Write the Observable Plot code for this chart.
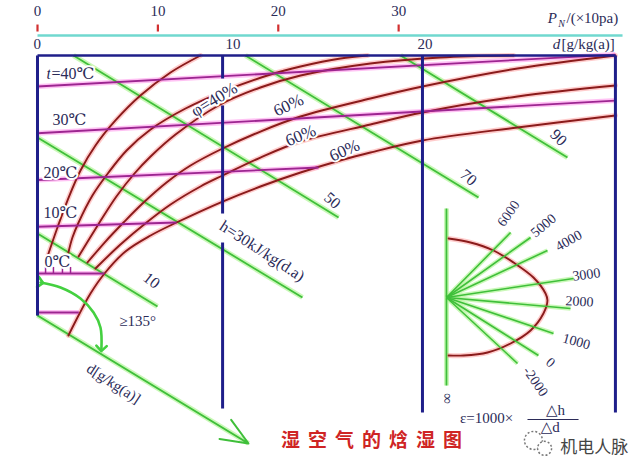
<!DOCTYPE html>
<html><head><meta charset="utf-8">
<script src="https://cdn.jsdelivr.net/npm/d3@7"></script>
<script src="https://cdn.jsdelivr.net/npm/@observablehq/plot@0.6"></script>
<style>html,body{margin:0;padding:0;background:#fff;width:640px;height:471px;overflow:hidden}</style>
</head><body><div id="chart"></div>
<script>
// ---- data: x = d (g/kg), y = t (°C on the d = 0 axis) ----
const pTicks = [0, 10, 20, 30];          // P_N (×10 Pa) tick values
const pToD = 0.627;                        // P_N tick 30 sits at d ≈ 18.8
const dTicks = [0, 10, 20];

const isoTemps = [40, 30, 20, 10, 0, -8.34];
const isoEndD  = [30.10, 30.10, 14.64, 7.24, 3.49, 2.15];
const isoEndT  = [46.84, 37.0, 22.67, 10.91, 0, -8.34];
const hatchD   = [0.42, 0.83, 1.30, 1.72];

const hValues = [10, 30, 50, 70, 90];
const hStartD = [0, 0, 1.875, 10.83, 18.91];
const hStartT = [8.56, 29.09, 46.63, 46.63, 46.63];
const hEndD   = [6.25, 13.80, 15.68, 22.97, 27.60];
const hEndT   = [-7.06, -5.13, 11.98, 16.26, 24.81];
const dAxisLine = [{d1: 0, t1: -8.98, d2: 10.99, t2: -36.36}];

const frameTop = [{d1: 0, d2: 30.10, t: 46.63}];
const gridD  = [0, 9.64, 9.64, 9.64, 20.05, 30.10];
const gridT1 = [46.63, 46.63, 35.94, 6.63, 46.63, 46.63];
const gridT2 = [-8.98, 41.71, 12.83, -28.88, -29.73, -29.73];
const pAxisLine = [{d1: 0, d2: 30.47, t: 50.91}];

const phiC1 = [[0.52,3.64],[1.04,9.84],[1.56,15.61],[2.24,22.03],[3.02,27.38],[4.06,32.73],[5.36,38.07],[6.93,43.0],[8.49,46.63]];
const phiC2 = [[1.61,4.49],[1.82,7.70],[2.14,10.91],[2.86,16.68],[3.70,21.60],[4.64,26.31],[5.89,30.80],[7.71,35.29],[9.79,39.14],[12.14,42.57],[13.70,44.28],[15.78,45.99],[17.19,46.63]];
const phiC3 = [[2.14,3.64],[3.23,10.91],[4.11,16.47],[5.05,21.39],[5.89,25.03],[7.19,29.73],[9.43,35.94],[11.61,39.79],[13.70,42.35],[17.34,44.92],[20.99,46.20],[24.79,46.63]];
const phiC4 = [[2.60,2.35],[3.54,6.84],[4.48,10.91],[5.47,14.97],[6.72,19.47],[7.97,23.10],[9.64,26.74],[11.61,30.37],[13.70,33.58],[17.34,37.43],[20.05,40.0],[25.0,43.85],[30.10,46.63]];
const phiC5 = [[3.02,1.07],[4.32,6.20],[5.68,10.91],[6.93,14.76],[8.49,18.61],[9.64,20.96],[11.61,24.81],[13.70,28.24],[17.34,31.87],[20.05,34.44],[25.0,37.86],[30.10,40.21]];
const phiSat = [[1.61,-13.26],[2.19,-8.56],[2.76,-4.28],[3.49,0],[4.58,4.71],[5.89,8.13],[7.24,10.91],[9.64,15.40],[11.61,18.61],[13.70,21.60],[15.94,24.39],[17.34,25.88],[20.05,28.45],[25.0,31.23],[30.10,33.80]];

const angleArrow = [[0.16,-1.93],[1.20,-2.99],[2.24,-5.35],[2.92,-8.34],[3.28,-11.55],[3.33,-16.04]];

const epsCenter = {d: 21.30, t: -5.13};
const epsLabels = ["6000","5000","4000","3000","2000","1000","0","-2000"];
const epsRayEnd = [[24.64,8.77],[25.68,7.70],[26.56,4.92],[27.92,-1.07],[27.76,-7.49],[26.875,-12.83],[26.09,-17.54],[25.0,-19.25]];
const epsLabelAt = [[24.53,12.83],[26.35,10.27],[27.66,7.06],[28.59,-0.21],[28.23,-5.99],[28.07,-14.55],[26.72,-19.04],[25.94,-23.10]];
const epsLabelAngle = [-55,-40,-30,-8,3,15,40,55];
const epsArc = [[21.41,7.49],[22.55,6.63],[23.75,4.92],[24.79,2.35],[25.83,-0.86],[26.46,-4.28],[26.56,-5.78],[26.35,-8.56],[25.68,-12.19],[24.64,-14.97],[23.44,-16.90],[22.19,-17.54],[21.41,-17.54]];
const epsAxis = [{d: 21.30, t1: 13.90, t2: -23.96}];

const isoLabels = [
  {text: "=40℃", d: 0.73, t: 42.78},
  {text: "30℃", d: 0.78, t: 32.94},
  {text: "20℃", d: 0.31, t: 21.50},
  {text: "10℃", d: 0.31, t: 13.05},
  {text: "0℃",  d: 0.36, t: 2.57}
];
const phiLabels = [
  {text: "φ=40%", d: 9.20, t: 37.2, a: -31},
  {text: "60%", d: 13.07, t: 36.0, a: -25},
  {text: "60%", d: 13.70, t: 29.52, a: -22},
  {text: "60%", d: 15.99, t: 26.31, a: -24}
];
const hLabels = [
  {text: "h=30kJ/kg(d.a)", d: 11.70, t: 4.80, a: 33},
  {text: "50", d: 15.36, t: 15.61, a: 40},
  {text: "70", d: 22.45, t: 20.53, a: 40},
  {text: "90", d: 27.14, t: 29.09, a: 45},
  {text: "10", d: 5.94, t: -1.50, a: 38}
];
const titleText = "湿空气的焓湿图";
const brandText = "机电人脉";

// ---- build tables ----
const isoTable = isoTemps.map((t, i) => ({t, d2: isoEndD[i], t2: isoEndT[i]}));
const hTable = hValues.map((h, i) => ({h, d1: hStartD[i], t1: hStartT[i], d2: hEndD[i], t2: hEndT[i]}));
const gridTable = gridD.map((d, i) => ({d, t1: gridT1[i], t2: gridT2[i]}));
const rays = epsLabels.map((s, i) => ({s, d2: epsRayEnd[i][0], t2: epsRayEnd[i][1], ld: epsLabelAt[i][0], lt: epsLabelAt[i][1], a: epsLabelAngle[i]}));
const phiCurves = [phiC1, phiC2, phiC3, phiC4, phiC5, phiSat];

const NAVY = "#1f1f8a", TXT = "#2b2b58";
const GREEN = "#3fbf3a", GREEN_H = "#b4f59a";
const RED = "#8a1b1b", RED_H = "#ff8f8f";
const MAG = "#9c2590", MAG_H = "#ff86ea";
const P = p => p[0], Q = p => p[1];
const serif = "'Liberation Serif','DejaVu Serif','Noto Sans CJK SC',serif";

const halo = {stroke: "white", strokeWidth: 4, paintOrder: "stroke"};

const marks = [
  // top P axis
  Plot.link(pAxisLine, {x1: "d1", x2: "d2", y1: "t", y2: "t", stroke: "#70d8cf", strokeWidth: 2.5}),
  Plot.link(pTicks, {x1: p => p * pToD, x2: p => p * pToD, y1: 51.76, y2: 53.26, stroke: "#d23030", strokeWidth: 2.2}),
  Plot.text(pTicks, {x: p => p * pToD, y: 56.04, text: p => String(p), fontSize: 15, fill: TXT}),
  Plot.text(dTicks, {x: d => d, y: 48.98, text: d => String(d), dx: -4, textAnchor: "start", fontSize: 15, fill: TXT}),
  Plot.text(["P"], {x: 26.82, y: 54.55, text: d => d, fontSize: 15, fontStyle: "italic", fill: TXT}),
  Plot.text(["N"], {x: 27.29, y: 53.48, text: d => d, fontSize: 10, fontStyle: "italic", fill: TXT}),
  Plot.text(["/(×10pa)"], {x: 27.55, y: 54.55, text: d => d, textAnchor: "start", fontSize: 15, fill: TXT}),
  Plot.text(["d"], {x: 27.03, y: 48.98, text: d => d, fontSize: 15, fontStyle: "italic", fill: TXT}),
  Plot.text(["[g/kg(a)]"], {x: 27.29, y: 48.98, text: d => d, textAnchor: "start", fontSize: 15, fill: TXT}),

  // halos
  Plot.link(hTable, {x1: "d1", y1: "t1", x2: "d2", y2: "t2", stroke: GREEN_H, strokeWidth: 5, strokeOpacity: 0.7}),
  Plot.link(dAxisLine, {x1: "d1", y1: "t1", x2: "d2", y2: "t2", stroke: GREEN_H, strokeWidth: 5, strokeOpacity: 0.7}),
  ...phiCurves.map(c => Plot.line(c, {x: P, y: Q, curve: "catmull-rom", stroke: RED_H, strokeWidth: 5, strokeOpacity: 0.45})),
  Plot.link(isoTable, {x1: 0, y1: "t", x2: "d2", y2: "t2", stroke: MAG_H, strokeWidth: 5, strokeOpacity: 0.5}),

  // cores
  Plot.link(hTable, {x1: "d1", y1: "t1", x2: "d2", y2: "t2", stroke: GREEN, strokeWidth: 1.8}),
  Plot.arrow(dAxisLine, {x1: "d1", y1: "t1", x2: "d2", y2: "t2", stroke: GREEN, strokeWidth: 2, headLength: 22, headAngle: 45}),
  ...phiCurves.map(c => Plot.line(c, {x: P, y: Q, curve: "catmull-rom", stroke: RED, strokeWidth: 1.9})),
  Plot.link(isoTable, {x1: 0, y1: "t", x2: "d2", y2: "t2", stroke: MAG, strokeWidth: 1.8}),
  Plot.link(hatchD, {x1: d => d, x2: d => d, y1: 0, y2: 1.4, stroke: MAG, strokeWidth: 1.5}),

  // angle arrow
  Plot.line(angleArrow, {x: P, y: Q, curve: "catmull-rom", stroke: "#44d040", strokeWidth: 2.6, markerStart: "arrow", markerEnd: "arrow"}),

  // navy grid
  Plot.link(frameTop, {x1: "d1", x2: "d2", y1: "t", y2: "t", stroke: NAVY, strokeWidth: 2.5}),
  Plot.link(gridTable, {x1: "d", x2: "d", y1: "t1", y2: "t2", stroke: NAVY, strokeWidth: 3}),

  // protractor
  Plot.link(epsAxis, {x1: "d", x2: "d", y1: "t1", y2: "t2", stroke: GREEN_H, strokeWidth: 5, strokeOpacity: 0.7}),
  Plot.link(rays, {x1: epsCenter.d, y1: epsCenter.t, x2: "d2", y2: "t2", stroke: GREEN_H, strokeWidth: 4.5, strokeOpacity: 0.7}),
  Plot.line(epsArc, {x: P, y: Q, curve: "catmull-rom", stroke: RED_H, strokeWidth: 5, strokeOpacity: 0.45}),
  Plot.line(epsArc, {x: P, y: Q, curve: "catmull-rom", stroke: RED, strokeWidth: 1.9}),
  Plot.link(epsAxis, {x1: "d", x2: "d", y1: "t1", y2: "t2", stroke: GREEN, strokeWidth: 1.8}),
  Plot.link(rays, {x1: epsCenter.d, y1: epsCenter.t, x2: "d2", y2: "t2", stroke: GREEN, strokeWidth: 1.6}),
  Plot.text(rays, {x: "ld", y: "lt", text: "s", rotate: "a", fontSize: 14, fill: TXT}),
  Plot.text(["∞"], {x: 21.35, y: -26.74, text: d => d, rotate: 90, fontSize: 15, fill: TXT}),
  Plot.text(["ε=1000×"], {x: 23.39, y: -31.02, text: d => d, fontSize: 15, fill: TXT}),
  Plot.text(["△h"], {x: 26.98, y: -29.30, text: d => d, fontSize: 15, fill: TXT}),
  Plot.text(["△d"], {x: 26.70, y: -32.85, text: d => d, fontSize: 15, fill: TXT}),
  Plot.link([{d1: 25.52, d2: 28.18, t: -31.23}], {x1: "d1", x2: "d2", y1: "t", y2: "t", stroke: TXT, strokeWidth: 1}),

  // labels
  Plot.text(["t"], {x: 0.47, y: 42.78, text: d => d, textAnchor: "start", fontStyle: "italic", fontSize: 16, fill: TXT, ...halo}),
  Plot.text(isoLabels, {x: "d", y: "t", text: "text", textAnchor: "start", fontSize: 16, fill: TXT, ...halo}),
  Plot.text(phiLabels, {x: "d", y: "t", text: "text", rotate: "a", fontSize: 17, fill: TXT, ...halo}),
  Plot.text(hLabels, {x: "d", y: "t", text: "text", rotate: "a", fontSize: 16, fill: TXT, ...halo}),
  Plot.text(["≥135°"], {x: 5.21, y: -10.27, text: d => d, fontSize: 15, fill: TXT}),
  Plot.text(["d[g/kg(a)]"], {x: 3.96, y: -23.53, text: d => d, rotate: 33, fontSize: 15, fill: TXT}),

  // title & brand
  Plot.text([titleText], {x: 17.6, y: -35.72, text: d => d, fontSize: 19, fontWeight: "bold", fill: "#cf2424", fontFamily: "'Noto Sans CJK SC',sans-serif"}),
  Plot.dot([[25.83,-35.7]], {x: P, y: Q, r: 9, stroke: "#777", strokeDasharray: "2,2", fill: "none"}),
  Plot.dot([[26.41,-37.4]], {x: P, y: Q, r: 7, stroke: "#777", strokeDasharray: "2,2", fill: "white"}),
  Plot.text([brandText], {x: 29.0, y: -37.2, text: d => d, fontSize: 17, fill: "#444", fontFamily: "'Noto Sans CJK SC',sans-serif"})
];

const chart = Plot.plot({
  width: 640, height: 471, margin: 0,
  x: {domain: [-1.927, 31.406], axis: null},
  y: {domain: [-42.353, 58.396], axis: null},
  style: {background: "#fff", fontFamily: serif},
  marks
});
chart.querySelectorAll("text").forEach(el => {
  if (el.textContent === titleText) el.setAttribute("letter-spacing", "8");
});
document.getElementById("chart").appendChild(chart);
</script></body></html>
